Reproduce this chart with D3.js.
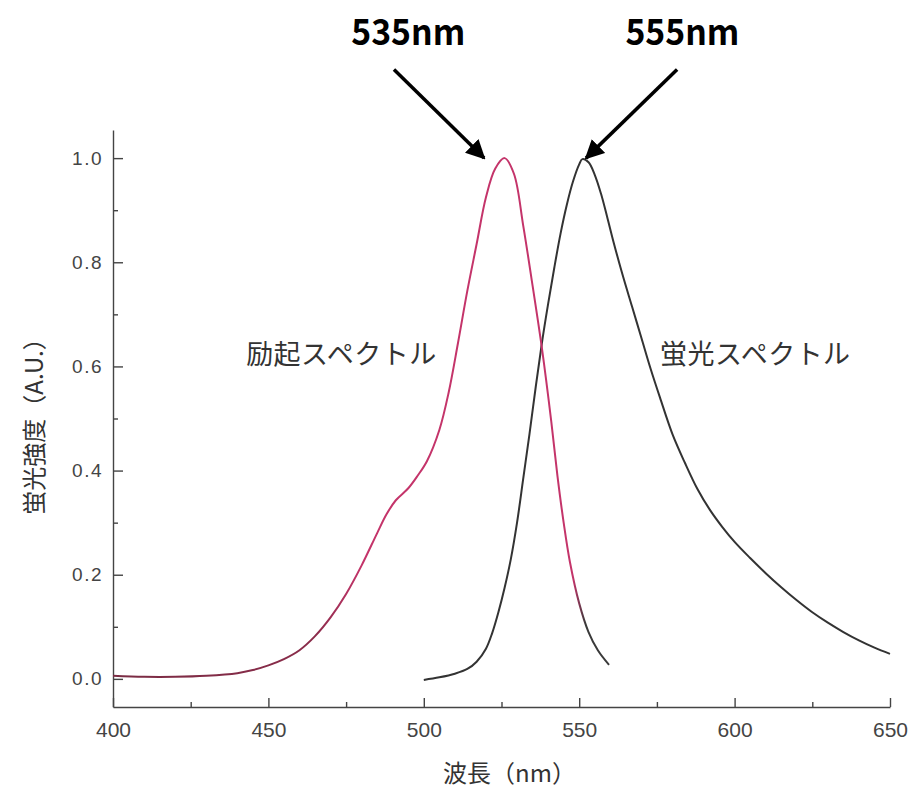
<!DOCTYPE html>
<html>
<head>
<meta charset="utf-8">
<title>励起・蛍光スペクトル</title>
<script src="https://cdn.jsdelivr.net/npm/d3@7/dist/d3.min.js"></script>
<style>
    body { margin: 0; background: #fff; }
    .axis path, .axis line { stroke: #444; stroke-width: 1.4; }
    .jp { font-family: "Noto Sans CJK JP", sans-serif; fill: #333; }
</style>
</head>
<body>
<svg id="mainsvg" width="913" height="787"></svg>
<script>
    // 励起スペクトル (wavelength nm, intensity)
    const exWave = [400, 410, 420, 430, 440, 445, 450, 455, 460, 465, 470, 475, 480, 485, 488, 491, 495, 498, 501, 505, 508, 511, 514, 517, 520, 523, 526, 529, 532, 535, 538, 541, 543, 545, 547, 550, 553, 556, 559.6];
    const exVal  = [0.006, 0.004, 0.004, 0.006, 0.011, 0.017, 0.026, 0.038, 0.055, 0.082, 0.118, 0.163, 0.218, 0.28, 0.316, 0.343, 0.366, 0.39, 0.418, 0.478, 0.55, 0.645, 0.745, 0.835, 0.925, 0.98, 1.0, 0.97, 0.87, 0.755, 0.635, 0.495, 0.39, 0.3, 0.225, 0.145, 0.09, 0.055, 0.027];
    // 蛍光スペクトル
    const emWave = [500, 505, 510, 514, 517, 520, 522, 524, 526, 528, 530, 532, 534, 536, 538, 540, 542, 544, 546, 548, 550, 551, 553, 555, 557, 559, 561, 564, 567, 570, 573, 576, 580, 584, 588, 592, 596, 600, 605, 610, 615, 620, 625, 630, 635, 640, 645, 650];
    const emVal  = [-0.002, 0.003, 0.01, 0.019, 0.033, 0.058, 0.088, 0.128, 0.175, 0.23, 0.3, 0.385, 0.47, 0.56, 0.645, 0.72, 0.79, 0.855, 0.91, 0.955, 0.988, 0.998, 0.992, 0.968, 0.932, 0.887, 0.84, 0.775, 0.715, 0.655, 0.595, 0.54, 0.47, 0.415, 0.365, 0.325, 0.292, 0.263, 0.232, 0.203, 0.176, 0.151, 0.128, 0.108, 0.09, 0.074, 0.06, 0.048];

    const xMajor = [400, 450, 500, 550, 600, 650];
    const xMinor = [425, 475, 525, 575, 625];
    const yMajor = [0, 0.2, 0.4, 0.6, 0.8, 1.0];
    const yMinor = [0.1, 0.3, 0.5, 0.7, 0.9];

    const svg = d3.select('#mainsvg');
    const x = d3.scaleLinear().domain([400, 650]).range([113, 890]);
    const y = d3.scaleLinear().domain([-0.054, 1.054]).range([707, 130]);

    // axes (ticks pointing inward)
    const gx = svg.append('g').attr('class', 'axis').attr('transform', 'translate(0,707)')
        .call(d3.axisBottom(x).tickValues(xMajor).tickSize(-9).tickSizeOuter(0).tickPadding(15).tickFormat(d3.format('d')));
    svg.append('g').attr('class', 'axis').attr('transform', 'translate(0,707)')
        .call(d3.axisBottom(x).tickValues(xMinor).tickSize(-5).tickSizeOuter(0).tickFormat(''))
        .select('.domain').remove();
    const gy = svg.append('g').attr('class', 'axis').attr('transform', 'translate(113,0)')
        .call(d3.axisLeft(y).tickValues(yMajor).tickSize(-10).tickSizeOuter(0).tickPadding(10).tickFormat(d3.format('.1f')));
    svg.append('g').attr('class', 'axis').attr('transform', 'translate(113,0)')
        .call(d3.axisLeft(y).tickValues(yMinor).tickSize(-5).tickSizeOuter(0).tickFormat(''))
        .select('.domain').remove();
    gx.attr('font-size', 21).attr('font-family', '"Liberation Sans", Arial, sans-serif')
        .selectAll('text').attr('fill', '#444');
    gy.attr('font-size', 19).attr('font-family', '"Liberation Sans", Arial, sans-serif')
        .selectAll('text').attr('fill', '#444').attr('letter-spacing', 1.5);

    // axis titles
    svg.append('text').attr('class', 'jp')
        .attr('transform', 'translate(32,' + ((y(0) + y(1)) / 2 + 2) + ') rotate(-90)')
        .attr('text-anchor', 'middle').attr('dominant-baseline', 'central')
        .attr('font-size', 24).text('蛍光強度（A.U.）');
    svg.append('text').attr('class', 'jp')
        .attr('x', (x(400) + x(650)) / 2 + 8).attr('y', 771)
        .attr('text-anchor', 'middle').attr('dominant-baseline', 'central')
        .attr('font-size', 24).text('波長（nm）');

    // gradient for the excitation line (dark ends, red body)
    const defs = svg.append('defs');
    const grad = defs.append('linearGradient').attr('id', 'exGrad')
        .attr('gradientUnits', 'userSpaceOnUse')
        .attr('x1', x(400)).attr('x2', x(560)).attr('y1', 0).attr('y2', 0);
    [[400, '#7a2c44'], [465, '#8a2c4a'], [480, '#c4346a'], [548, '#c4346a'], [552, '#3a3a3a'], [560, '#3a3a3a']]
        .forEach(s => grad.append('stop').attr('offset', (x(s[0]) - x(400)) / (x(560) - x(400))).attr('stop-color', s[1]));

    const line = d3.line().x(d => x(d[0])).y(d => y(d[1])).curve(d3.curveCatmullRom.alpha(0.5));

    svg.append('path').datum(d3.zip(emWave, emVal))
        .attr('d', line).attr('fill', 'none').attr('stroke', '#333').attr('stroke-width', 2);
    svg.append('path').datum(d3.zip(exWave, exVal))
        .attr('d', line).attr('fill', 'none').attr('stroke', 'url(#exGrad)').attr('stroke-width', 2);

    // curve labels
    svg.append('text').attr('class', 'jp').attr('x', x(473.4)).attr('y', y(0.626))
        .attr('text-anchor', 'middle').attr('dominant-baseline', 'central')
        .attr('font-size', 27).attr('textLength', 190).text('励起スペクトル');
    svg.append('text').attr('class', 'jp').attr('x', x(606.6)).attr('y', y(0.626))
        .attr('text-anchor', 'middle').attr('dominant-baseline', 'central')
        .attr('font-size', 27).attr('textLength', 190).text('蛍光スペクトル');

    // peak annotations
    defs.append('marker').attr('id', 'arrow').attr('viewBox', '0 0 10 10')
        .attr('refX', 9).attr('refY', 5).attr('markerWidth', 5.5).attr('markerHeight', 5.5)
        .attr('markerUnits', 'strokeWidth').attr('orient', 'auto')
        .append('path').attr('d', 'M0,0 L10,5 L0,10 z').attr('fill', '#000');

    const notes = [
        { text: '535nm', tx: 495, ty: 1.217, from: [490.4, 1.17], to: [519.4, 1.0] },
        { text: '555nm', tx: 583.2, ty: 1.217, from: [581.5, 1.17], to: [552.2, 1.0] }
    ];
    notes.forEach(n => {
        svg.append('text').attr('x', x(n.tx)).attr('y', y(n.ty))
            .attr('text-anchor', 'middle')
            .attr('font-family', '"Noto Sans CJK JP", sans-serif').attr('font-weight', 'bold')
            .attr('font-size', 36).attr('textLength', 114).attr('lengthAdjust', 'spacingAndGlyphs')
            .attr('fill', '#000').text(n.text);
        svg.append('line')
            .attr('x1', x(n.from[0])).attr('y1', y(n.from[1]))
            .attr('x2', x(n.to[0])).attr('y2', y(n.to[1]))
            .attr('stroke', '#000').attr('stroke-width', 3.5)
            .attr('marker-end', 'url(#arrow)');
    });
</script>
</body>
</html>
